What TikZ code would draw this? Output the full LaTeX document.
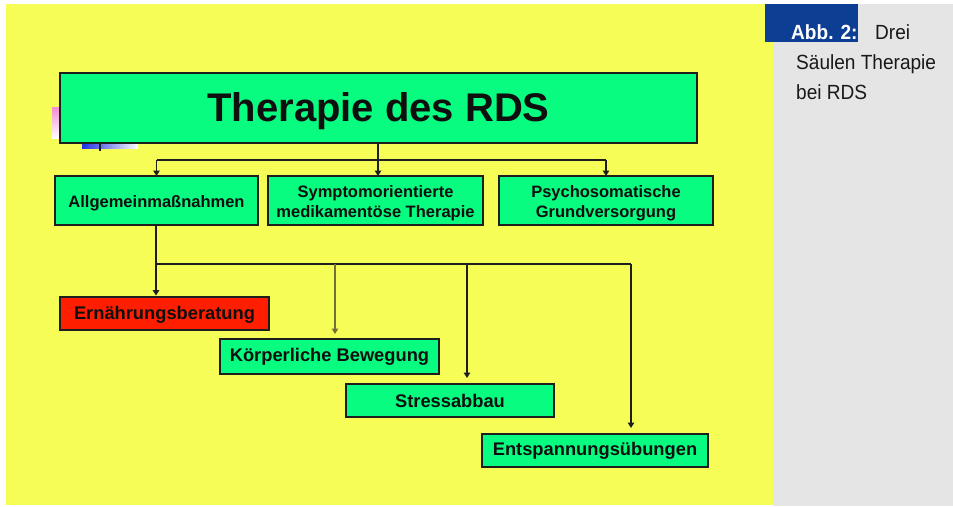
\documentclass[tikz,border=0pt]{standalone}
\usepackage{fontspec}
\setmainfont{Liberation Sans}
\newfontfamily\capfont[FakeStretch=0.93]{Liberation Sans}
\usetikzlibrary{arrows.meta}
\definecolor{bgyellow}{RGB}{245,253,86}
\definecolor{panelgray}{RGB}{229,229,229}
\definecolor{abbblue}{RGB}{12,62,148}
\definecolor{boxgreen}{RGB}{8,253,128}
\definecolor{boxred}{RGB}{255,30,0}
\definecolor{boxline}{RGB}{30,30,30}
\definecolor{boxtext}{RGB}{15,15,15}
\definecolor{connline}{RGB}{30,30,30}
\definecolor{oliveline}{RGB}{115,112,55}
\definecolor{captext}{RGB}{25,25,25}
\definecolor{pinkart}{RGB}{240,140,210}
\definecolor{blueart}{RGB}{30,50,230}
\newcommand{\lowerby}[2]{\raisebox{-#1}[\height][\depth]{#2}}
\begin{document}
\begin{tikzpicture}[x=1pt,y=-1pt,
  box/.style={draw=boxline, line width=1.4pt, fill=boxgreen, inner sep=0pt,
    outer sep=0pt, anchor=north west, align=center, text=boxtext},
  titlefont/.style={font=\bfseries\fontsize{40}{46}\selectfont},
  midfont/.style={font=\bfseries\fontsize{16.5}{20.5}\selectfont},
  lowfont/.style={font=\bfseries\fontsize{18.3}{22}\selectfont},
  conn/.style={draw=connline, line width=1.5pt},
  arr/.style={conn, -{Triangle[length=5.5pt,width=6.5pt]}},
  capstyle/.style={anchor=base west, inner sep=0pt, text=captext,
    font=\capfont\fontsize{20.5}{24}\selectfont}
]
\useasboundingbox (0,0) rectangle (953,506);
\fill[white] (0,0) rectangle (953,506);
\fill[bgyellow] (6,4) rectangle (773,505);
\fill[panelgray] (773,4) rectangle (953,506);
\fill[abbblue] (765,4) rectangle (858,42);

% small artifacts near the title
\shade[top color=pinkart, bottom color=white] (52,107) rectangle (60,138);
\shade[left color=blueart, right color=white] (82,143) rectangle (138,148);
\draw[connline, line width=1.3pt] (100,143) -- (100,151);

% caption
\node[capstyle, text=white, font=\capfont\bfseries\fontsize{20.5}{24}\selectfont] (abb) at (791,39) {Abb. 2:};
\node[capstyle] (cap1) at (875,39) {Drei};
\node[capstyle] (cap2) at (796,69) {Säulen Therapie};
\node[capstyle] (cap3) at (796,99) {bei RDS};

% title
\node[box, titlefont, minimum width=637pt, minimum height=70pt] (title) at (60,73) {\lowerby{3pt}{Therapie des RDS}};

% level 2
\node[box, midfont, minimum width=203pt, minimum height=49pt] (a1) at (55,176) {\lowerby{3pt}{Allgemeinmaßnahmen}};
\node[box, midfont, minimum width=215pt, minimum height=49pt] (a2) at (268,176) {\lowerby{3pt}{\begin{tabular}{@{}c@{}}Symptomorientierte\\medikamentöse Therapie\end{tabular}}};
\node[box, midfont, minimum width=214pt, minimum height=49pt] (a3) at (499,176) {\lowerby{3pt}{\begin{tabular}{@{}c@{}}Psychosomatische\\Grundversorgung\end{tabular}}};

% level 3
\node[box, lowfont, fill=boxred, minimum width=209pt, minimum height=33pt] (b1) at (60,297) {\lowerby{1pt}{Ernährungsberatung}};
\node[box, lowfont, minimum width=219pt, minimum height=35pt] (b2) at (220,339) {Körperliche Bewegung};
\node[box, lowfont, minimum width=208pt, minimum height=33pt] (b3) at (346,384) {Stressabbau};
\node[box, lowfont, minimum width=226pt, minimum height=33pt] (b4) at (482,434) {Entspannungsübungen};

% connectors level 1 -> 2
\coordinate (y1) at (0,160);
\coordinate (j1) at (378,160);
\draw[conn] (title.south -| j1) -- (j1);
\draw[conn] (a1.north |- y1) -- (a3.north |- y1);
\draw[arr] (a1.north |- y1) -- (a1.north);
\draw[arr] (j1) -- (j1 |- a2.north);
\draw[arr] (a3.north |- y1) -- (a3.north);

% connectors level 2 -> 3
\coordinate (j2) at (156,264);
\coordinate (d2) at (335,264);
\coordinate (d3) at (467,264);
\coordinate (d4) at (631,264);
\draw[conn] (a1.south -| j2) -- (j2) -- (d4);
\draw[arr, shorten >=1.5pt] (j2) -- (j2 |- b1.north);
\draw[arr, draw=oliveline, shorten >=5pt] (d2) -- (d2 |- b2.north);
\draw[arr, shorten >=6pt] (d3) -- (d3 |- b3.north);
\draw[arr, shorten >=6pt] (d4) -- (d4 |- b4.north);
\end{tikzpicture}
\end{document}
